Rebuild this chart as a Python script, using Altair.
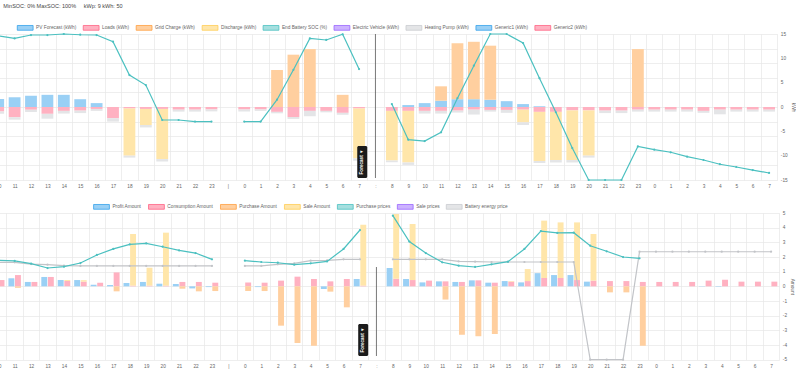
import altair as alt
import pandas as pd

info_text = "MinSOC: 0% MaxSOC: 100%\u00a0\u00a0\u00a0\u00a0\u00a0kWp: 9 kWh: 50"
forecast_label = "Forecast \u25bc"

cats = ["10", "11", "12", "13", "14", "15", "16", "17", "18", "19", "20", "21", "22", "23", "|",
        "0", "1", "2", "3", "4", "5", "6", "7", ":",
        "8", "9", "10", "11", "12", "13", "14", "15", "16", "17", "18", "19", "20", "21", "22", "23",
        "0", "1", "2", "3", "4", "5", "6", "7"]

# ---------- top panel (kWh / SOC %) ----------
top_series = ["PV Forecast (kWh)", "Loads (kWh)", "Grid Charge (kWh)", "Discharge (kWh)",
              "End Battery SOC (%)", "Electric Vehicle (kWh)", "Heating Pump (kWh)",
              "Generic1 (kWh)", "Generic2 (kWh)"]
top_fill = ["#9ad0f5", "#ffb1c1", "#ffcf9f", "#ffe6aa", "#a5dfdf", "#ccb2ff", "#e4e5e7", "#9ad0f5", "#ffb1c1"]
top_stroke = ["#36a2eb", "#ff6384", "#ff9f40", "#ffcd56", "#4bc0c0", "#9966ff", "#c9cbcf", "#36a2eb", "#ff6384"]

pv_forecast = [1.64, 2.0, 2.3, 2.5, 2.5, 1.6, 0.8, 0, 0, 0, 0, 0, 0, 0, None,
               0, 0, 0, 0, 0, 0, 0, 0, None,
               0, 0.4, 0.8, 1.3, 1.6, 1.6, 1.5, 1.2, 0.6, 0.15, 0, 0, 0, 0, 0, 0,
               0, 0, 0, 0, 0, 0, 0, 0]
loads = [-0.9, -2.1, -0.55, -1.4, -0.8, -0.75, -0.4, -2.3, -0.3, -0.4, -0.4, -0.55, -0.55, -0.5, None,
         -0.5, -0.5, -1.0, -2.05, -0.8, -0.8, -1.2, -0.3, None,
         -0.8, -0.8, -0.8, -0.8, -0.75, -0.55, -0.6, -0.6, -0.55, -1.0, -1.0, -0.7, -0.7, -0.75, -0.75, -0.55,
         -0.55, -0.55, -0.55, -0.8, -0.55, -0.55, -0.55, -0.55]
grid_charge = [0, 0, 0, 0, 0, 0, 0, 0, 0, 0, 0, 0, 0, 0, None,
               0, 0, 7.6, 10.75, 11.9, 0, 2.5, 0, None,
               0, 0, 0, 2.95, 11.5, 11.8, 11.1, 0, 0, 0, 0, 0, 0, 0, 0, 11.9,
               0, 0, 0, 0, 0, 0, 0, 0]
discharge = [0, 0, 0, 0, 0, 0, 0, 0, -9.7, -3.3, -10.3, 0, 0, 0, None,
             0, 0, 0, 0, 0, 0, 0, -10.25, None,
             -10.2, -10.6, 0, 0, 0, 0, 0, 0, -2.6, -10.1, -9.9, -10.2, -9.3, 0, 0, 0,
             0, 0, 0, 0, 0, 0, 0, 0]
heating_pump = [-0.5, -0.5, -0.5, -1.0, -0.55, -0.5, -0.4, -0.7, -0.4, -0.5, -0.5, -0.4, -0.4, -0.4, None,
                -0.4, -0.3, -0.3, -0.4, -1.1, -0.3, -0.4, -0.5, None,
                -0.35, -0.5, -0.55, -0.55, -0.4, -1.0, -0.35, -0.6, -0.55, -0.4, -0.5, -0.5, -0.4, -0.5, -0.5, -0.4,
                -0.4, -0.4, -0.4, -0.4, -0.95, -0.4, -0.4, -0.4]
end_soc = [98.8, 97, 99.3, 99.3, 100, 99.5, 99.3, 94.7, 71.9, 65, 41.1, 41.1, 40, 40, None,
           40, 40, 55, 75.5, 97, 95.9, 99.8, 76, None,
           52, 27.6, 26.7, 32.7, 56, 78.3, 100, 100, 93.8, 69.7, 46.4, 21.9, 0, 0, 0, 23,
           20.8, 19, 16, 13.7, 10.8, 8.9, 6.8, 4.8]

# ---------- bottom panel (amounts / prices) ----------
bot_series = ["Profit Amount", "Consumption Amount", "Purchase Amount", "Sale Amount",
              "Purchase prices", "Sale prices", "Battery energy price"]
bot_fill = ["#9ad0f5", "#ffb1c1", "#ffcf9f", "#ffe6aa", "#a5dfdf", "#ccb2ff", "#e4e5e7"]
bot_stroke = ["#36a2eb", "#ff6384", "#ff9f40", "#ffcd56", "#4bc0c0", "#9966ff", "#c9cbcf"]

profit_amount = [0.45, 0.55, 0.3, 0.64, 0.43, 0.43, 0.11, 0.09, 0.23, 0.3, 0.18, 0.16, -0.14, -0.05, None,
                 0, -0.05, 0, 0, 0, -0.18, 0, 0.5, None,
                 1.25, 0.5, 0.27, 0.34, 0.3, 0.41, 0.25, 0.36, 0.27, 0.9, 0.77, 0.77, 0.32, 0, 0, 0,
                 0, 0, 0, -0.02, -0.03, 0, 0, 0]
consumption_amount = [0.43, 0.77, 0.3, 0.64, 0.36, 0.32, 0.25, 0.95, 0.05, 0.05, 0.05, 0.3, 0.3, 0.25, None,
                      0.27, 0.25, 0.39, 0.66, 0.5, 0.34, 0.5, 0.05, None,
                      0.52, 0.43, 0.39, 0.34, 0.3, 0.41, 0.25, 0.32, 0.36, 0.57, 0.57, 0.43, 0.39, 0.36, 0.36, 0.3,
                      0.3, 0.3, 0.3, 0.39, 0.45, 0.32, 0.32, 0.32]
sale_amount = [0, 0, 0, 0, 0.07, 0.1, 0, 0, 3.52, 1.22, 3.61, 0, 0, 0, None,
               0, 0, 0, 0, 0, 0, 0, 4.15, None,
               4.41, 3.82, 0, 0, 0, 0, 0, 0.04, 0.82, 3.91, 3.79, 3.93, 3.18, 0, 0, 0,
               0, 0, 0, 0, 0, 0, 0, 0]
purchase_amount = [0, -0.1, 0, 0, 0, 0, 0, -0.34, 0, 0, 0, -0.16, -0.34, -0.32, None,
                   -0.32, -0.32, -2.68, -3.86, -4.05, -0.36, -1.43, 0, None,
                   0, 0, 0, -0.9, -3.3, -3.4, -3.25, 0, 0, 0, 0, 0, 0, -0.41, -0.41, -4.05,
                   0, 0, 0, 0, 0, 0, 0, 0]
purchase_prices = [1.77, 1.73, 1.55, 1.25, 1.34, 1.59, 2.14, 2.55, 2.86, 2.93, 2.7, 2.45, 2.27, 1.84, None,
                   1.75, 1.66, 1.61, 1.48, 1.57, 1.7, 2.55, 3.84, None,
                   4.82, 3.05, 2.27, 1.64, 1.41, 1.32, 1.5, 1.68, 2.55, 3.77, 3.64, 3.66, 2.77, 2.39, 2.0, 1.91,
                   None, None, None, None, None, None, None, None]
battery_energy_price = [1.64, 1.64, 1.52, 1.48, 1.41, 1.39, 1.39, 1.39, 1.39, 1.39, 1.39, 1.39, 1.39, 1.39, None,
                        1.39, 1.39, 1.5, 1.57, 1.75, 1.77, 1.84, 1.84, None,
                        1.84, 1.84, 1.84, 1.84, 1.7, 1.68, 1.66, 1.66, 1.66, 1.66, 1.66, 1.66, -5.0, -5.0, -5.0, 2.36,
                        2.36, 2.36, 2.36, 2.36, 2.36, 2.36, 2.36, 2.36]

# ---------- helpers ----------
FONT = "Liberation Sans"
GRID = "#e6e6e6"
TXT = "#666666"
TEAL = "#4bc0c0"
GRAYLINE = "#c2c4c8"
FS = 4.75

keys = [f"{i:02d}" for i in range(len(cats))]
seg_ids = []
s = 0
for c in cats:
    if c in ("|", ":"):
        s += 1
    seg_ids.append(s)
label_expr = "[" + ",".join(f"'{c}'" for c in cats) + "][toNumber(datum.value)]"
fc_key = keys[cats.index(":")]


def x_enc():
    return alt.X("key:O", scale=alt.Scale(domain=keys, paddingInner=0, paddingOuter=0),
                 axis=alt.Axis(title=None, labelExpr=label_expr, labelAngle=0, tickBand="extent",
                               grid=True, gridColor=GRID, gridWidth=0.7, ticks=False, tickSize=0,
                               domain=False, labelFontSize=FS, labelColor=TXT, labelFont=FONT,
                               labelPadding=3.7, labelOverlap=False))


def legend_def(lx):
    return alt.Legend(title=None, orient="none", legendX=lx, legendY=-14.9, direction="horizontal",
                      symbolType="M-1,-0.3H1V0.3H-1Z", symbolSize=250, symbolStrokeWidth=0.8,
                      labelFontSize=FS, labelColor=TXT, labelFont=FONT, labelOffset=2.4,
                      columnPadding=3.95, padding=0, symbolOpacity=1)


def long_rows(spec):
    rows = []
    for name, vals, grp, o in spec:
        for k, v in zip(keys, vals):
            if v:
                rows.append({"key": k, "series": name, "value": v, "grp": grp, "ord": o})
    return pd.DataFrame(rows)


def line_df(vals):
    return pd.DataFrame([{"key": k, "value": v, "seg": sg}
                         for k, v, sg in zip(keys, vals, seg_ids) if v is not None])


def forecast_layers(rule_top, rule_bottom, box_top, box_bottom):
    fc_df = pd.DataFrame({"key": [fc_key], "label": [forecast_label]})
    rule = alt.Chart(fc_df).mark_rule(color="#555555", strokeWidth=0.8).encode(
        x=x_enc(), y=alt.value(rule_top), y2=alt.value(rule_bottom))
    box = alt.Chart(fc_df).mark_bar(color="#1b1b1b", width=10, cornerRadius=1.5).encode(
        x=x_enc(), xOffset=alt.value(-5), y=alt.value(box_top), y2=alt.value(box_bottom))
    txt = alt.Chart(fc_df).mark_text(angle=270, color="white", fontSize=4.6, fontWeight="bold",
                                     font=FONT).encode(
        x=x_enc(), xOffset=alt.value(-5), y=alt.value((box_top + box_bottom) / 2), text="label:N")
    return [rule, box, txt]


# ---------- top chart ----------
top_df = long_rows([
    ("PV Forecast (kWh)", pv_forecast, "A", 0),
    ("Loads (kWh)", loads, "A", 1),
    ("Grid Charge (kWh)", grid_charge, "A", 2),
    ("Discharge (kWh)", discharge, "A", 3),
    ("Heating Pump (kWh)", heating_pump, "A", 6),
])
leg_top = legend_def(26.7)
bars_top = alt.Chart(top_df).mark_bar(width=alt.RelativeBandSize(0.72)).encode(
    x=x_enc(),
    y=alt.Y("value:Q", stack="zero", scale=alt.Scale(domain=[-15, 15], nice=False),
            axis=alt.Axis(orient="right", values=[-15, -10, -5, 0, 5, 10, 15], grid=False, title="kWh",
                          ticks=False, domain=False, labelFontSize=FS, labelColor=TXT, labelFont=FONT,
                          labelPadding=3, titleFontSize=FS, titleColor=TXT, titleFont=FONT,
                          titleFontWeight="normal", titlePadding=3,
                          labelExpr="replace(datum.label, '\u2212', '-')")),
    fill=alt.Fill("series:N", scale=alt.Scale(domain=top_series, range=top_fill), legend=leg_top),
    stroke=alt.Stroke("series:N", scale=alt.Scale(domain=top_series, range=top_stroke), legend=leg_top),
    strokeWidth=alt.value(0),
    order=alt.Order("ord:Q"),
)
soc_line = alt.Chart(line_df(end_soc)).mark_line(
    color=TEAL, strokeWidth=1.2, point=alt.OverlayMarkDef(color=TEAL, size=5, filled=True)).encode(
    x=x_enc(),
    y=alt.Y("value:Q", scale=alt.Scale(domain=[0, 100], nice=False),
            axis=alt.Axis(orient="left", values=list(range(0, 101, 10)), labels=False, ticks=False,
                          domain=False, title=None, grid=True, gridColor=GRID, gridWidth=0.7,
                          minExtent=0, maxExtent=0)),
    detail="seg:N",
)
info = alt.Chart(pd.DataFrame({"t": [info_text]})).mark_text(
    align="left", baseline="middle", fontSize=5.5, color="#444444", font=FONT).encode(
    x=alt.value(13.3), y=alt.value(-28.3), text="t:N")

top = alt.layer(bars_top, soc_line, *forecast_layers(0, 144, 112, 144), info).resolve_scale(
    y="independent").properties(width=787.3, height=146)

# ---------- bottom chart ----------
bot_df = long_rows([
    ("Profit Amount", profit_amount, "A", 0),
    ("Consumption Amount", consumption_amount, "B", 1),
    ("Sale Amount", sale_amount, "B", 2),
    ("Purchase Amount", purchase_amount, "B", 3),
])
leg_bot = legend_def(103)
y_bot_scale = alt.Scale(domain=[-5, 5], nice=False)
y_bot_axis = alt.Axis(orient="right", values=list(range(-5, 6)), grid=True, gridColor=GRID, gridWidth=0.7,
                      title="Amount", ticks=False, domain=False, labelFontSize=FS, labelColor=TXT,
                      labelFont=FONT, labelPadding=3, titleFontSize=FS, titleColor=TXT, titleFont=FONT,
                      titleFontWeight="normal", titlePadding=3,
                      labelExpr="replace(datum.label, '\u2212', '-')")
bars_bot = alt.Chart(bot_df).mark_bar().encode(
    x=x_enc(),
    xOffset=alt.XOffset("grp:N", scale=alt.Scale(domain=["A", "B"], paddingInner=0.1, paddingOuter=0.3)),
    y=alt.Y("value:Q", stack="zero", scale=y_bot_scale, axis=y_bot_axis),
    fill=alt.Fill("series:N", scale=alt.Scale(domain=bot_series, range=bot_fill), legend=leg_bot),
    stroke=alt.Stroke("series:N", scale=alt.Scale(domain=bot_series, range=bot_stroke), legend=leg_bot),
    strokeWidth=alt.value(0),
    order=alt.Order("ord:Q"),
)
pp_line = alt.Chart(line_df(purchase_prices)).mark_line(
    color=TEAL, strokeWidth=1.2, point=alt.OverlayMarkDef(color=TEAL, size=5, filled=True)).encode(
    x=x_enc(), y=alt.Y("value:Q", scale=y_bot_scale, axis=y_bot_axis), detail="seg:N")
bp_line = alt.Chart(line_df(battery_energy_price)).mark_line(
    color=GRAYLINE, strokeWidth=1.2, point=alt.OverlayMarkDef(color=GRAYLINE, size=5, filled=True)).encode(
    x=x_enc(), y=alt.Y("value:Q", scale=y_bot_scale, axis=y_bot_axis), detail="seg:N")

bottom = alt.layer(bars_bot, bp_line, pp_line, *forecast_layers(54, 143, 111, 143)).properties(
    width=789.3, height=146.7)

chart = alt.vconcat(top, bottom, spacing=33, bounds="flush").resolve_scale(
    fill="independent", stroke="independent"
).resolve_legend(
    fill="independent", stroke="independent"
).properties(
    padding={"left": -10, "top": 3, "right": 0, "bottom": 0}
).configure(font=FONT, background="white").configure_view(stroke=None)

chart.save("out.html", embed_options={"renderer": "svg", "actions": False})
